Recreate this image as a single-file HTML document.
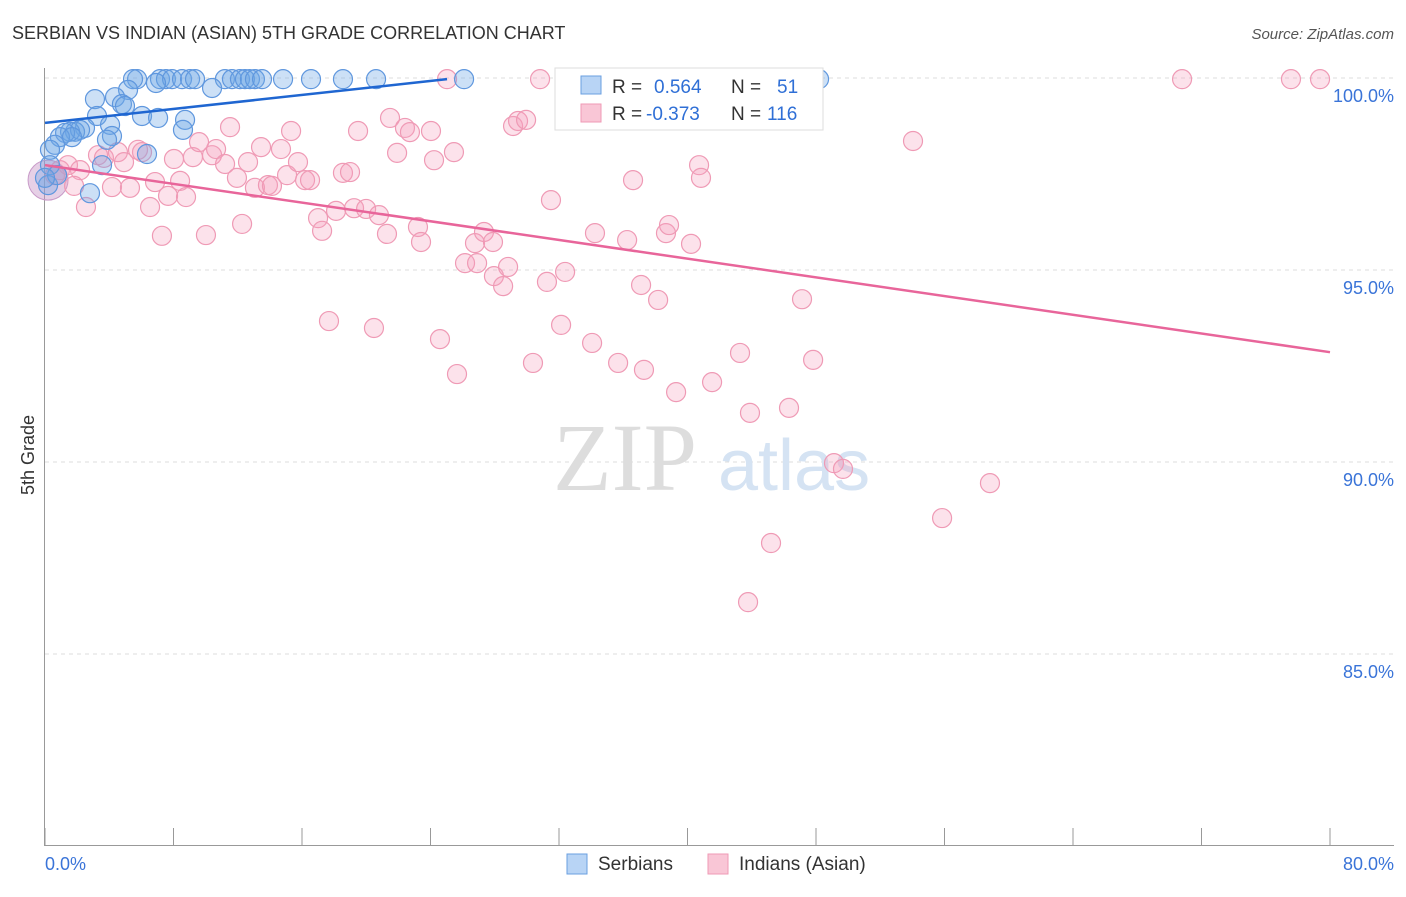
<!DOCTYPE html>
<html><head><meta charset="utf-8"><style>
body{margin:0;background:#fff;font-family:"Liberation Sans",sans-serif;}
</style></head><body>
<svg width="1406" height="892" viewBox="0 0 1406 892" xmlns="http://www.w3.org/2000/svg">
<text x="12" y="39" font-size="18" fill="#333">SERBIAN VS INDIAN (ASIAN) 5TH GRADE CORRELATION CHART</text>
<text x="1394" y="39" font-size="15" fill="#555" font-style="italic" text-anchor="end">Source: ZipAtlas.com</text>
<g id="grid"></g>
<g><text x="553" y="490" font-size="96" fill="#ddd" font-family="Liberation Serif,serif">ZIP</text><text x="718" y="490" font-size="72" fill="#d5e3f3">atlas</text></g>
<g id="axes"></g>
<g id="pink"></g>
<g id="blue"></g>
<g id="lines"></g>
<text x="34" y="455" font-size="18" fill="#333" transform="rotate(-90 34 455)" text-anchor="middle">5th Grade</text>
<text x="45" y="870" font-size="18" fill="#3a74d8">0.0%</text>
<text x="1394" y="870" font-size="18" fill="#3a74d8" text-anchor="end">80.0%</text>
<g>
<rect x="555" y="68" width="268" height="62" fill="#fff" stroke="#ddd"/>
<rect x="581" y="76" width="20" height="18" fill="#b8d4f5" stroke="#6a9fe0"/>
<text x="612" y="93" font-size="19" fill="#333">R = </text><text x="654" y="93" font-size="19" fill="#2f6fd6">0.564</text>
<text x="731" y="93" font-size="19" fill="#333">N = </text><text x="777" y="93" font-size="19" fill="#2f6fd6">51</text>
<rect x="581" y="104" width="20" height="18" fill="#f9c6d6" stroke="#ef9ab5"/>
<text x="612" y="120" font-size="19" fill="#333">R = </text><text x="646" y="120" font-size="19" fill="#2f6fd6">-0.373</text>
<text x="731" y="120" font-size="19" fill="#333">N = </text><text x="767" y="120" font-size="19" fill="#2f6fd6">116</text>
</g>
<g>
<rect x="567" y="854" width="20" height="20" fill="#b8d4f5" stroke="#6a9fe0"/>
<text x="598" y="870" font-size="19" fill="#333">Serbians</text>
<rect x="708" y="854" width="20" height="20" fill="#f9c6d6" stroke="#ef9ab5"/>
<text x="739" y="870" font-size="19" fill="#333">Indians (Asian)</text>
</g>
</svg>
<script>
const yTicks=[100,95,90,85];
const yTickLabels=["100.0%","95.0%","90.0%","85.0%"];
const xTicks=[0,8,16,24,32,40,48,56,64,72,80];
const blueX=[5.73,5.48,7.16,7.53,7.91,8.53,9.03,9.34,11.2,11.64,12.14,12.45,12.76,13.07,13.51,14.82,16.56,18.55,20.61,26.09,37.05,48.19,10.4,6.91,5.17,4.36,3.11,4.79,4.98,6.04,7.04,8.72,3.24,8.59,4.05,2.49,1.87,1.56,2.18,1.25,0.93,0.62,0.31,1.68,4.17,3.86,6.35,3.55,2.8,0.19,0.31,0.75,0];
const blueY=[99.97,99.97,99.97,99.97,99.97,99.97,99.97,99.97,99.97,99.97,99.97,99.97,99.97,99.97,99.97,99.97,99.97,99.97,99.97,99.97,99.97,99.97,99.74,99.87,99.69,99.5,99.45,99.32,99.27,99.01,98.96,98.91,99.01,98.65,98.78,98.7,98.6,98.6,98.65,98.57,98.46,98.26,98.13,98.46,98.49,98.39,98.02,97.73,97.0,97.21,97.73,97.47,97.4];
const pinkX=[25.03,30.82,46.82,70.79,77.57,79.38,54.04,0.62,0.93,1.43,2.18,2.55,1.81,3.3,3.67,4.17,4.54,4.92,5.29,5.79,6.04,6.54,6.85,7.28,7.66,8.03,8.41,8.78,9.21,9.59,10.02,10.4,10.65,11.21,11.52,11.95,12.27,12.64,13.07,13.45,13.88,14.13,14.69,15.07,15.32,15.75,16.19,16.5,17.0,17.25,17.68,18.12,18.55,18.99,19.24,19.49,19.99,20.48,20.79,21.29,21.48,21.92,22.41,22.72,23.22,23.41,24.03,24.22,24.59,25.46,25.65,26.15,26.77,26.9,27.33,27.89,27.95,28.52,28.83,29.14,29.45,29.95,30.38,31.25,31.5,32.13,32.38,34.06,34.24,35.68,36.24,36.61,37.11,37.29,38.17,38.66,38.85,39.29,40.22,40.72,40.84,41.53,43.27,43.77,43.89,45.2,46.32,47.13,47.82,49.12,49.68,55.85,58.83];
const pinkY=[99.97,99.97,99.97,99.97,99.97,99.97,98.36,97.47,97.6,97.73,97.6,96.64,97.19,97.99,97.92,97.16,98.07,97.81,97.14,98.13,98.07,96.64,97.29,95.89,96.93,97.89,97.32,96.9,97.94,98.33,95.91,97.99,98.15,97.76,98.72,97.4,96.2,97.81,97.14,98.2,97.21,97.19,98.15,97.47,98.62,97.81,97.34,97.34,96.35,96.02,93.67,96.54,97.53,97.55,96.61,98.62,96.59,93.49,96.43,95.94,98.96,98.05,98.7,98.59,96.12,95.73,98.62,97.86,93.2,98.07,92.29,95.18,95.7,95.18,95.99,95.73,94.84,94.58,95.08,98.75,98.88,98.91,92.58,94.69,96.82,93.57,94.95,93.1,95.96,92.58,95.78,97.34,94.61,92.4,94.22,95.96,96.17,91.82,95.68,97.73,97.4,92.08,92.84,86.35,91.28,87.89,91.41,94.24,92.66,89.97,89.82,88.54,89.45];
const blueTrendX=[0,25.03], blueTrendY=[98.83,99.97];
const pinkTrendX=[0,80], pinkTrendY=[97.73,92.86];
const NS="http://www.w3.org/2000/svg";
const sx=v=>45+v/80*1285;
const sy=v=>78+(100-v)*38.4;
function mk(tag,attrs,parent){const e=document.createElementNS(NS,tag);for(const k in attrs)e.setAttribute(k,attrs[k]);parent.appendChild(e);return e;}
const grid=document.getElementById('grid');
yTicks.forEach((t,i)=>{
 const l=mk('line',{x1:45,x2:1394,y1:sy(t),y2:sy(t),stroke:'#ddd','stroke-dasharray':'4,4'},grid);
 
 
 const tx=mk('text',{x:1394,y:sy(t)+24,'font-size':18,fill:'#3a74d8','text-anchor':'end'},grid);
 tx.textContent=yTickLabels[i];
 
 
});
const axes=document.getElementById('axes');
const ya=mk('line',{x1:44.5,x2:44.5,y1:68,y2:845,stroke:'#999'},axes);


const xa=mk('line',{x1:44,x2:1394,y1:845.5,y2:845.5,stroke:'#999'},axes);


xTicks.forEach(t=>{
 const l=mk('line',{x1:sx(t),x2:sx(t),y1:828,y2:845,stroke:'#999'},axes);
 
 
});
function dots(xs,ys,g,fill,stroke,name){
 xs.forEach((x,i)=>{
  const c=mk('circle',{cx:sx(x),cy:sy(ys[i]),r:9.5,fill:fill,stroke:stroke,'stroke-width':1.2},g);
  
  
 });
}
const pg=document.getElementById('pink');
const big=mk('circle',{cx:sx(0.19),cy:sy(97.34),r:20,fill:'rgba(200,150,200,0.45)',stroke:'#c89ac8'},pg);


dots(pinkX,pinkY,pg,'rgba(245,160,190,0.3)','#ef9ab5','indian-point');
dots(blueX,blueY,document.getElementById('blue'),'rgba(110,165,230,0.35)','#5f97de','serbian-point');
const lg=document.getElementById('lines');
const bl=mk('line',{x1:sx(blueTrendX[0]),y1:sy(blueTrendY[0]),x2:sx(blueTrendX[1]),y2:sy(blueTrendY[1]),stroke:'#1f66d1','stroke-width':2.5},lg);


const pl=mk('line',{x1:sx(pinkTrendX[0]),y1:sy(pinkTrendY[0]),x2:sx(pinkTrendX[1]),y2:sy(pinkTrendY[1]),stroke:'#e8659a','stroke-width':2.5},lg);


</script>
</body></html>
